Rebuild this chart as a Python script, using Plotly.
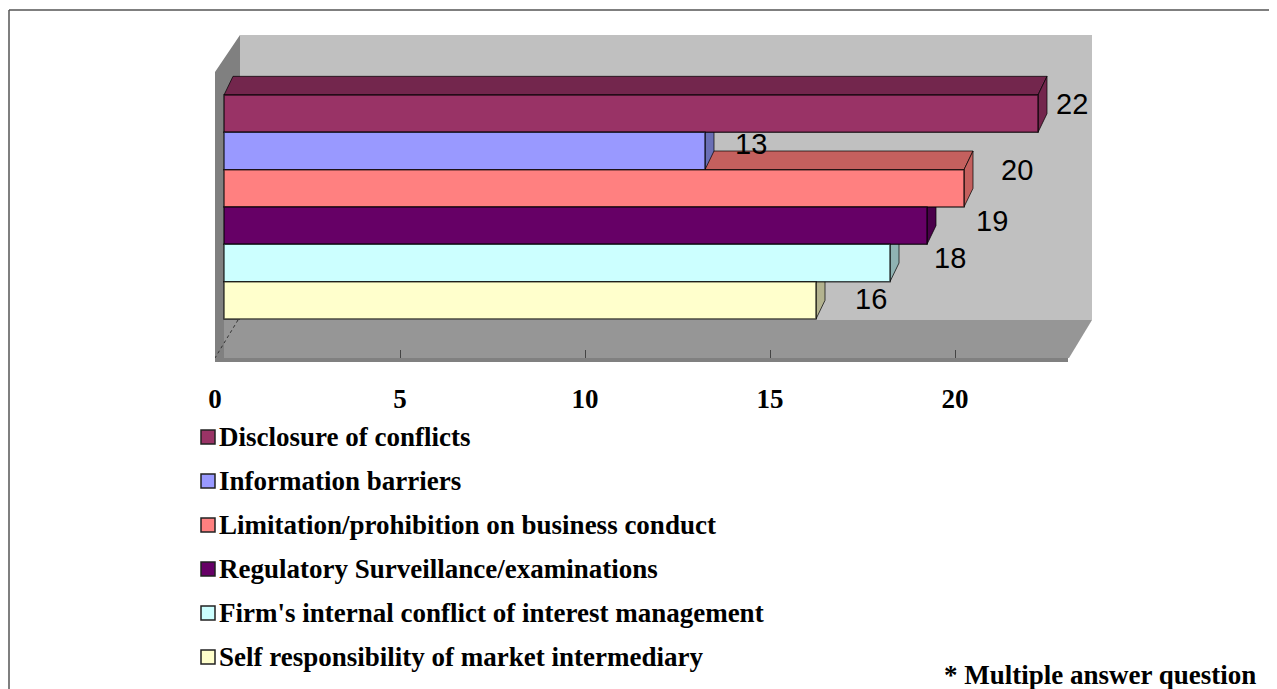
import plotly.graph_objects as go

# 값 / 범주
categories = ['Disclosure of conflicts', 'Information barriers', 'Limitation/prohibition on business conduct',
              'Regulatory Surveillance/examinations', "Firm's internal conflict of interest management",
              'Self responsibility of market intermediary']
values = [22, 13, 20, 19, 18, 16]
x_ticks = [0, 5, 10, 15, 20]
front_colors = ['#993366', '#9999FF', '#FF8080', '#660066', '#CCFFFF', '#FFFFCC']
face_colors = ['#73264D', '#6A6FB5', '#C4605E', '#4A004A', '#8FB3B3', '#B3B38F']

# 데이터 라벨 위치 보정 (px)
label_dx = [34, 46, 53, 65, 60, 55]
label_dy = [-10, -7, -18, -5, -5, -1]

W, H = 1277, 689
BODY_MARGIN = 8  # 페이지 기본 여백
LEFT, RIGHT, TOP, BOTTOM = 215, 1092, 35, 358
PX_PER_UNIT = 37
ROW_PX = 37.33
ROW0_PX = 113.67
DEPTH_X = 9 / PX_PER_UNIT
DEPTH_Y = 0.5
EDGE = 'rgba(0,0,0,0.7)'


def py(px):
    return (px - ROW0_PX) / ROW_PX


def px_x(px):
    return (px - LEFT) / PX_PER_UNIT


def paper_x(px):
    return (px - LEFT) / (RIGHT - LEFT)


def paper_y(px):
    return 1 - (px - TOP) / (BOTTOM - TOP)


def poly(points, fill, line='rgba(0,0,0,0)', width=0):
    path = 'M' + 'L'.join(f'{a},{b}' for a, b in points) + 'Z'
    return dict(type='path', path=path, xref='x', yref='y', fillcolor=fill, layer='below',
                line=dict(color=line, width=width))


rows = list(range(len(values)))
fig = go.Figure()

for i in rows:
    fig.add_trace(go.Bar(x=[values[i]], y=[i], base=DEPTH_X, width=1, orientation='h', name=categories[i],
                         marker=dict(color=front_colors[i], line=dict(color=EDGE, width=1.5)),
                         showlegend=False))

# 벽면 / 바닥
shapes = [
    poly([(px_x(240), py(35)), (px_x(1092), py(35)), (px_x(1092), py(320)), (px_x(240), py(320))], '#C0C0C0'),
    poly([(px_x(224), py(320)), (px_x(1092), py(320)), (px_x(1069), py(358)), (px_x(215), py(358))], '#969696'),
    poly([(px_x(215), py(72)), (px_x(240), py(35)), (px_x(240), py(320)), (px_x(224), py(320)),
          (px_x(224), py(358)), (px_x(215), py(358))], '#808080'),
    dict(type='rect', xref='paper', yref='paper', x0=paper_x(215), x1=paper_x(1068), y0=paper_y(358),
         y1=paper_y(362), fillcolor='#808080', line=dict(width=0), layer='below'),
    dict(type='line', xref='x', yref='y', x0=px_x(238), x1=px_x(215), y0=py(320), y1=py(358), layer='below',
         line=dict(color='#333333', width=1, dash='dot')),
]

# 막대 윗면 / 옆면 (아래쪽 막대부터)
for i in reversed(rows):
    v = values[i] + DEPTH_X
    top, bot = i - 0.5, i + 0.5
    shapes.append(poly([(DEPTH_X, top), (DEPTH_X * 2, top - DEPTH_Y), (v + DEPTH_X, top - DEPTH_Y), (v, top)],
                       face_colors[i], EDGE, 1))
    shapes.append(poly([(v, top), (v + DEPTH_X, top - DEPTH_Y), (v + DEPTH_X, bot - DEPTH_Y), (v, bot)],
                       face_colors[i], EDGE, 1))

# 바깥 테두리 (위, 왼쪽)
for x0, y0, x1, y1 in [(9, 10, W, 10), (9, 10, 9, H)]:
    shapes.append(dict(type='line', xref='paper', yref='paper', x0=paper_x(x0), x1=paper_x(x1), y0=paper_y(y0),
                       y1=paper_y(y1), line=dict(color='#555555', width=1.5), layer='above'))

# 범례
annotations = []
for i, name in enumerate(categories):
    ly = 437 + 44 * i
    shapes.append(dict(type='rect', xref='paper', yref='paper', x0=paper_x(201), x1=paper_x(215), y0=paper_y(ly - 7),
                       y1=paper_y(ly + 7), fillcolor=front_colors[i], line=dict(color='#222222', width=1.5),
                       layer='above'))
    annotations.append(dict(x=paper_x(217), y=paper_y(ly), text=f'<b>{name}</b>', xref='paper', yref='paper',
                            xanchor='left', yanchor='middle', showarrow=False,
                            font=dict(family='Liberation Serif', size=27, color='black')))

# 데이터 라벨
for i, v in enumerate(values):
    annotations.append(dict(x=v + DEPTH_X, y=i, text=str(v), xshift=label_dx[i], yshift=-label_dy[i],
                            showarrow=False, font=dict(family='Liberation Sans', size=29, color='black')))

annotations.append(dict(x=paper_x(942), y=paper_y(675), text='<b>* Multiple answer question</b>', xref='paper',
                        yref='paper', xanchor='left', yanchor='middle', showarrow=False,
                        font=dict(family='Liberation Serif', size=27, color='black')))

fig.update_layout(
    width=W, height=H, paper_bgcolor='white', plot_bgcolor='white',
    barmode='overlay', showlegend=False,
    margin=dict(l=LEFT - BODY_MARGIN, r=W + BODY_MARGIN - RIGHT, t=TOP - BODY_MARGIN, b=H + BODY_MARGIN - BOTTOM, pad=0),
    shapes=shapes, annotations=annotations,
    font=dict(family='Liberation Serif', color='black'),
)
fig.update_xaxes(range=[0, (RIGHT - LEFT) / PX_PER_UNIT], tickvals=x_ticks, ticks='inside', ticklen=8,
                 tickcolor='#444444', showgrid=False, zeroline=False, showline=False, ticklabelstandoff=22,
                 tickfont=dict(family='Liberation Serif', size=27, weight='bold', color='black'))
fig.update_yaxes(range=[py(BOTTOM), py(TOP)], visible=False)

fig.write_html("out.html")
